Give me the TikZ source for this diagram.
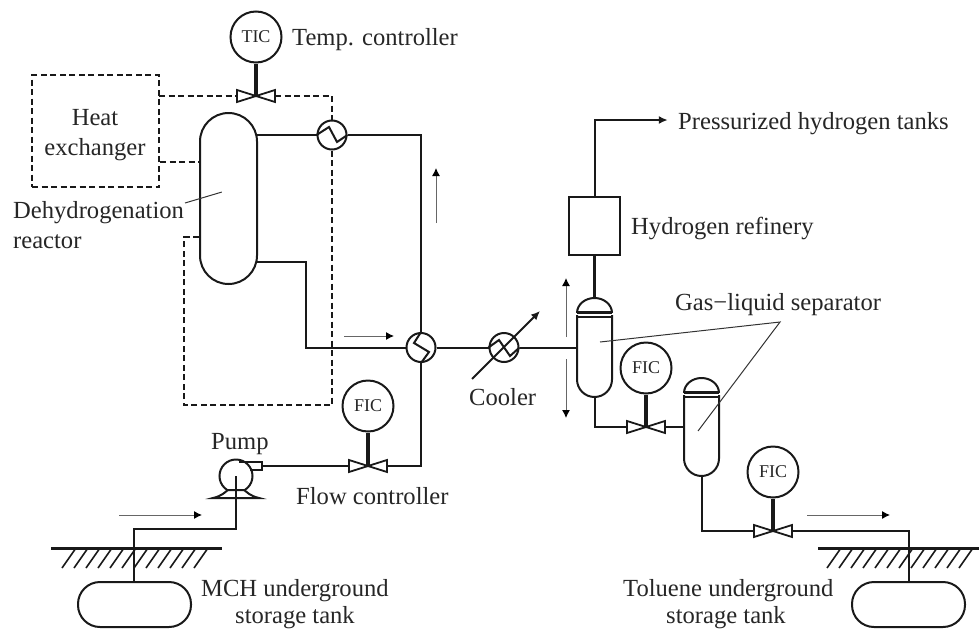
\documentclass[tikz,border=0pt]{standalone}
\usepackage{fontspec}
\setmainfont{Liberation Serif}
\usetikzlibrary{arrows.meta}
\tikzset{
  pipe/.style={line width=2pt,draw=black!90,line join=miter},
  ctrl/.style={line width=2pt,draw=black!90,dash pattern=on 6pt off 3.5pt},
  stem/.style={line width=3.2pt,draw=black!90},
  thin leader/.style={line width=1pt,draw=black!80},
  flow/.style={line width=1pt,draw=black!60,-{Latex[length=8pt,width=8pt,black]}},
  lab/.style={font=\fontsize{24.6}{28}\selectfont,anchor=base west,inner sep=0pt,text=black!85},
  inst/.style={circle,draw=black!90,line width=2pt,minimum size=51pt,inner sep=0pt,font=\fontsize{18}{20}\selectfont,text=black!85},
  hx/.style={circle,draw=black!90,line width=2pt,minimum size=29pt,inner sep=0pt},
  point/.style={inner sep=0pt,minimum size=0pt},
  valvebody/.style={draw=black!90,line width=1.8pt,fill=white},
}
\newcommand{\valve}[2]{%
  \node[point] (#1) at (#2) {};
  \draw[valvebody] (#1.center) -- ++(-19,-6) -- ++(0,12) -- cycle;
  \draw[valvebody] (#1.center) -- ++(19,-6) -- ++(0,12) -- cycle;
  \node[point] (#1L) at ([xshift=-19pt]#1.center) {};
  \node[point] (#1R) at ([xshift=19pt]#1.center) {};
}
\newcommand{\separator}[4]{% name, centre x, top y, bottom y
  \draw[pipe] (#2-17.5,#3+17) -- (#2-17.5,#4-17.5) arc[start angle=180,end angle=360,radius=17.5pt] -- (#2+17.5,#3+17);
  \draw[pipe] (#2-17.5,#3+15) arc[start angle=180,end angle=0,x radius=17.5pt,y radius=15pt];
  \draw[line width=3pt,draw=black!90] (#2-17.5,#3+14) -- (#2+17.5,#3+14);
  \draw[pipe] (#2-17.5,#3+19) -- (#2+17.5,#3+19);
  \node[point] (#1top) at (#2,#3) {};
  \node[point] (#1bot) at (#2,#4) {};
}
\newcommand{\hatches}[2]{% first lower x, y
  \foreach \i in {0,...,11}{\draw[line width=1.6pt,draw=black!90] (#1+12*\i,#2+20) -- (#1+12*\i+14,#2);}
}
\begin{document}
\begin{tikzpicture}[x=1pt,y=-1pt]
\useasboundingbox (0,0) rectangle (979,629);

% Instruments
\node[inst] (tic) at (256,37) {TIC};
\node[inst] (fic1) at (368,406) {FIC};
\node[inst] (fic2) at (646,368) {FIC};
\node[inst] (fic3) at (773,472) {FIC};

% Heat exchanger box and control lines
\node[ctrl,draw=black!90,minimum width=127pt,minimum height=112pt,inner sep=0pt] (hbox) at (95.5,131) {};
\node[hx] (hx1) at (332,135) {};
\node[hx] (hx2) at (421,347.5) {};
\node[hx] (cool) at (504,347.5) {};

% Reactor
\draw[pipe] (200,141.5) arc[start angle=180,end angle=0,radius=28.5pt] -- (257,255.5) arc[start angle=360,end angle=180,radius=28.5pt] -- cycle;
\node[point] (rtop) at (257,135) {};
\node[point] (rbot) at (257,262) {};
\node[point] (rdashA) at (200,162) {};
\node[point] (rdashB) at (200,237) {};
\node[point] (rlead) at (222,192) {};

\coordinate (cA) at (159,96);
\coordinate (cB) at (332,96);
\coordinate (cC) at (184,405);
\coordinate (cD) at (332,405);

% Valves
\valve{v0}{256,96}
\valve{v1}{368,466}
\valve{v2}{646,427}
\valve{v3}{773,531}

\draw[ctrl] (cA) -- (v0L);
\draw[ctrl] (v0R) -- (cB) -- (hx1.north);
\draw[ctrl] (hx1.south) -- (cD) -- (cC) -- (184,237) -- (rdashB);
\draw[ctrl] (hbox.east |- rdashA) -- (rdashA);

\draw[stem] (tic.south) -- (v0.center);
\draw[stem] (fic1.south) -- (v1.center);
\draw[stem] (fic2.south) -- (v2.center);
\draw[stem] (fic3.south) -- (v3.center);

% Process lines
\draw[pipe] (rtop) -- (hx1.west);
\draw[pipe] (hx1.east) -- (421,135) -- (hx2.north);
\draw[pipe] (rbot) -- (306,262) -- (306,347.5) -- (hx2.west);
\draw[pipe] (hx2.east) -- (cool.west);
\draw[pipe] (hx2.south) -- (421,466) -- (v1R);

% Coils
\draw[pipe] (hx1.west) -- (329,127) -- (337,142) -- (hx1.east);
\draw[pipe] (hx2.north) -- (414,343) -- (429,352) -- (hx2.south);
\draw[pipe] (cool.west) -- (499,340) -- (510,356) -- (cool.east);

% Cooler diagonal
\coordinate (cdA) at (472,379);
\coordinate (cdB) at (540,311);
\draw[pipe,-{Latex[length=9pt,width=8pt]}] (cdA) -- (cdB);

% Separators
\separator{s1}{594.5}{298}{397}
\separator{s2}{701.5}{378}{476}
\draw[pipe] (cool.east) -- (577,347.5);
\node[draw=black!90,line width=2pt,minimum width=51pt,minimum height=58pt,inner sep=0pt] (refinery) at (594.5,226) {};
\draw[line width=3pt,draw=black!90] (refinery.south) -- (s1top);
\node[point] (ptank) at (668,120) {};
\draw[pipe,-{Latex[length=9pt,width=8pt]}] (refinery.north) -- (594.5,120) -- (ptank);
\draw[pipe] (s1bot) -- (594.5,427) -- (v2L);
\draw[pipe] (v2R) -- (684,427);
\draw[pipe] (s2bot) -- (701.5,531) -- (v3L);

% Pump
\node[circle,draw=black!90,line width=2pt,minimum size=33pt,inner sep=0pt] (pump) at (236,476) {};
\draw[pipe] (239,462) -- (262,462) -- (262,470) -- (250,470);
\draw[pipe,fill=white] (213,498) .. controls (222,496) and (225,492) .. (228,490) -- (244,490) .. controls (247,492) and (250,496) .. (259,498) -- cycle;
\node[point] (pdis) at (262,466) {};
\draw[pipe] (pdis) -- (v1L);

% Ground and tanks
\draw[line width=3pt,draw=black!90] (51,548) -- (222,548);
\draw[line width=3pt,draw=black!90] (818,548) -- (979,548);
\hatches{62}{548}
\hatches{827}{548}
\node[draw=black!90,line width=2pt,rounded corners=22pt,minimum width=113pt,minimum height=45pt,inner sep=0pt] (tank1) at (134.5,604.5) {};
\node[draw=black!90,line width=2pt,rounded corners=22pt,minimum width=113pt,minimum height=45pt,inner sep=0pt] (tank2) at (908.5,604.5) {};
\draw[pipe] (pump.center) -- (236,529) -- (133.5,529) -- (133.5,582);
\draw[pipe] (v3R) -- (908.5,531) -- (tank2.north);

% Flow arrows
\draw[flow] (436,223) -- (436,168);
\draw[flow] (344,336) -- (394,336);
\draw[flow] (119,515) -- (202,515);
\draw[flow] (807,515) -- (890,515);
\draw[flow] (566,337) -- (566,278);
\draw[flow] (566,359) -- (566,418);

% Labels
\node[lab] (t1) at (292,45) {Temp. controller};
\node[lab,anchor=base] (t2) at (95,125) {Heat};
\node[lab,anchor=base] (t3) at (95,155) {exchanger};
\node[lab] (t4) at (13,218) {Dehydrogenation};
\node[lab] (t5) at (13,248) {reactor};
\node[lab] (t6) at (678,129) {Pressurized hydrogen tanks};
\node[lab] (t7) at (631,234) {Hydrogen refinery};
\node[lab] (t8) at (675,310) {Gas−liquid separator};
\node[lab] (t9) at (469,405) {Cooler};
\node[lab] (t10) at (211,449) {Pump};
\node[lab] (t11) at (296,504) {Flow controller};
\node[lab] (t12) at (201,596) {MCH underground};
\node[lab,anchor=base] (t13) at (295,623) {storage tank};
\node[lab] (t14) at (623,596) {Toluene underground};
\node[lab,anchor=base] (t15) at (726,623) {storage tank};

% Leaders
\coordinate (lapex) at (780,322);
\draw[thin leader] (185,203) -- (rlead);
\draw[thin leader] (600,342) -- (lapex) -- (698,431);
\end{tikzpicture}
\end{document}
